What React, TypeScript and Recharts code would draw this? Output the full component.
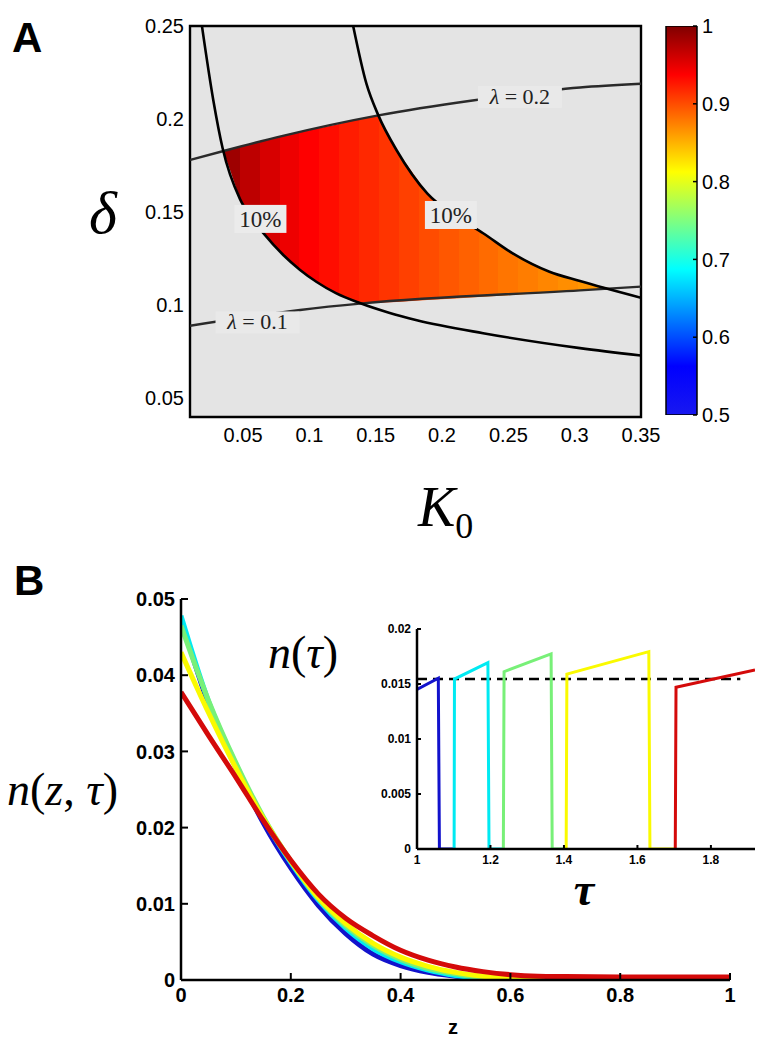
import React from 'react';
import { ComposedChart, Line, Area, Bar, Scatter, XAxis, YAxis, CartesianGrid, ReferenceArea } from 'recharts';

const SANS = '"Liberation Sans", Arial, Helvetica, sans-serif';
const SERIF = '"Liberation Serif", "Times New Roman", Times, serif';

// ---------- panel A: contour map over (K0, delta)
const kTicks = [0.05, 0.1, 0.15, 0.2, 0.25, 0.3, 0.35];
const deltaTicks = [0.05, 0.1, 0.15, 0.2, 0.25];
const colorTicks = [0.5, 0.6, 0.7, 0.8, 0.9, 1];

// left "10%" contour
const lowerTenPct = [
  { k: 0.019, d: 0.25 }, { k: 0.0276, d: 0.21 }, { k: 0.0346, d: 0.1843 }, { k: 0.0477, d: 0.157 },
  { k: 0.0552, d: 0.148 }, { k: 0.065, d: 0.139 }, { k: 0.0803, d: 0.127 }, { k: 0.093, d: 0.119 },
  { k: 0.1055, d: 0.1125 }, { k: 0.12, d: 0.1065 }, { k: 0.138, d: 0.1012 }, { k: 0.16, d: 0.096 },
  { k: 0.181, d: 0.092 }, { k: 0.231, d: 0.085 }, { k: 0.304, d: 0.077 }, { k: 0.35, d: 0.073 },
];
// right "10%" contour
const upperTenPct = [
  { k: 0.133, d: 0.25 }, { k: 0.143, d: 0.219 }, { k: 0.152, d: 0.202 }, { k: 0.166, d: 0.183 },
  { k: 0.189, d: 0.16 }, { k: 0.21, d: 0.148 }, { k: 0.231, d: 0.1387 }, { k: 0.253, d: 0.128 },
  { k: 0.281, d: 0.118 }, { k: 0.304, d: 0.113 }, { k: 0.35, d: 0.104 },
];
const lambda02 = [
  { k: 0.01, d: 0.178 }, { k: 0.036, d: 0.183 }, { k: 0.08, d: 0.191 }, { k: 0.152, d: 0.202 },
  { k: 0.223, d: 0.21 }, { k: 0.304, d: 0.217 }, { k: 0.35, d: 0.219 },
];
const lambda01 = [
  { k: 0.01, d: 0.089 }, { k: 0.093, d: 0.0975 }, { k: 0.14, d: 0.101 }, { k: 0.304, d: 0.108 },
  { k: 0.35, d: 0.11 },
];

// coloured feasible region: lower / upper delta at each K0
const regionK = [0.035, 0.04, 0.0477, 0.0552, 0.065, 0.0803, 0.093, 0.1055, 0.12, 0.139, 0.152, 0.166, 0.189, 0.21, 0.231, 0.253, 0.281, 0.304, 0.327];
const regionLow = [0.183, 0.173, 0.157, 0.148, 0.139, 0.127, 0.119, 0.1125, 0.1065, 0.101, 0.1013, 0.1018, 0.1028, 0.1037, 0.1046, 0.1055, 0.1069, 0.108, 0.109];
const regionHigh = [0.183, 0.184, 0.1851, 0.1865, 0.1883, 0.191, 0.193, 0.195, 0.197, 0.2005, 0.202, 0.183, 0.16, 0.148, 0.1387, 0.128, 0.118, 0.113, 0.109];

// colour value of the vertical bands inside the region
const bandK = [0.04, 0.055, 0.07, 0.085, 0.1, 0.115, 0.13, 0.145, 0.16, 0.175, 0.19, 0.205, 0.22, 0.235, 0.25, 0.265, 0.28, 0.295, 0.31, 0.325];
const bandValue = [0.985, 0.97, 0.957, 0.946, 0.938, 0.931, 0.924, 0.918, 0.912, 0.906, 0.9, 0.895, 0.89, 0.885, 0.88, 0.876, 0.872, 0.868, 0.864, 0.86];

const contourLabels = [
  { k: 0.0631, d: 0.1464, kind: 'pct', text: '10%' },
  { k: 0.2067, d: 0.1485, kind: 'pct', text: '10%' },
  { k: 0.2587, d: 0.2119, kind: 'lambda', text: '0.2' },
  { k: 0.0609, d: 0.0908, kind: 'lambda', text: '0.1' },
];

// colour bar spans the value range 0.5 .. 1
const colorBar = [{ name: 'value', span: [0.5, 1] }];

// ---------- panel B: profiles n(z, tau)
const zTicks = [0, 0.2, 0.4, 0.6, 0.8, 1];
const nTicks = [0, 0.01, 0.02, 0.03, 0.04, 0.05];

const blueN = [
  { z: 0, n: 0.0474 }, { z: 0.05, n: 0.0362 }, { z: 0.1, n: 0.0279 }, { z: 0.15, n: 0.0206 }, { z: 0.2, n: 0.0147 },
  { z: 0.25, n: 0.0098 }, { z: 0.3, n: 0.0061 }, { z: 0.35, n: 0.0034 }, { z: 0.4, n: 0.0019 }, { z: 0.45, n: 0.001 },
  { z: 0.5, n: 0.0005 }, { z: 0.55, n: 0.00015 }, { z: 0.575, n: 0 },
];
const cyanN = [
  { z: 0, n: 0.0478 }, { z: 0.05, n: 0.0366 }, { z: 0.1, n: 0.0283 }, { z: 0.15, n: 0.0212 }, { z: 0.2, n: 0.0154 },
  { z: 0.25, n: 0.0105 }, { z: 0.3, n: 0.0068 }, { z: 0.35, n: 0.0041 }, { z: 0.4, n: 0.0024 }, { z: 0.45, n: 0.0013 },
  { z: 0.5, n: 0.0006 }, { z: 0.55, n: 0.0002 }, { z: 0.6, n: 0 },
];
const greenN = [
  { z: 0, n: 0.0465 }, { z: 0.05, n: 0.0367 }, { z: 0.1, n: 0.0285 }, { z: 0.15, n: 0.0214 }, { z: 0.2, n: 0.0156 },
  { z: 0.25, n: 0.0107 }, { z: 0.3, n: 0.0071 }, { z: 0.35, n: 0.0045 }, { z: 0.4, n: 0.0027 }, { z: 0.45, n: 0.0015 },
  { z: 0.5, n: 0.0008 }, { z: 0.55, n: 0.0003 }, { z: 0.6, n: 0.0001 }, { z: 0.63, n: 0 },
];
const yellowN = [
  { z: 0, n: 0.043 }, { z: 0.05, n: 0.0351 }, { z: 0.1, n: 0.0278 }, { z: 0.15, n: 0.0212 }, { z: 0.2, n: 0.0156 },
  { z: 0.25, n: 0.0108 }, { z: 0.3, n: 0.0074 }, { z: 0.35, n: 0.0048 }, { z: 0.4, n: 0.003 }, { z: 0.45, n: 0.0018 },
  { z: 0.5, n: 0.001 }, { z: 0.55, n: 0.0005 }, { z: 0.6, n: 0.0002 }, { z: 0.66, n: 0 },
];
const redN = [
  { z: 0, n: 0.0378 }, { z: 0.05, n: 0.0321 }, { z: 0.1, n: 0.0266 }, { z: 0.15, n: 0.0209 }, { z: 0.2, n: 0.0157 },
  { z: 0.25, n: 0.0113 }, { z: 0.3, n: 0.0081 }, { z: 0.35, n: 0.0058 }, { z: 0.4, n: 0.0039 }, { z: 0.45, n: 0.0026 },
  { z: 0.5, n: 0.0017 }, { z: 0.55, n: 0.0011 }, { z: 0.6, n: 0.0007 }, { z: 0.65, n: 0.0005 }, { z: 0.7, n: 0.00045 },
  { z: 0.8, n: 0.0004 }, { z: 0.9, n: 0.0004 }, { z: 1, n: 0.0004 },
];

// ---------- inset: n(tau)
const tauTicks = [1, 1.2, 1.4, 1.6, 1.8];
const insetNTicks = [0, 0.005, 0.01, 0.015, 0.02];
const blueTau = [{ t: 1, n: 0.0145 }, { t: 1.058, n: 0.01552 }, { t: 1.061, n: 0 }, { t: 1.104, n: 0 }];
const cyanTau = [{ t: 1.101, n: 0 }, { t: 1.102, n: 0.01545 }, { t: 1.193, n: 0.01694 }, { t: 1.196, n: 0 }, { t: 1.235, n: 0 }];
const greenTau = [{ t: 1.235, n: 0 }, { t: 1.237, n: 0.01612 }, { t: 1.365, n: 0.01773 }, { t: 1.368, n: 0 }, { t: 1.406, n: 0 }];
const yellowTau = [{ t: 1.406, n: 0 }, { t: 1.408, n: 0.0159 }, { t: 1.631, n: 0.01794 }, { t: 1.634, n: 0 }, { t: 1.703, n: 0 }];
const redTau = [{ t: 1.703, n: 0 }, { t: 1.705, n: 0.0147 }, { t: 1.92, n: 0.01627 }];
const thresholdTau = [{ t: 1, n: 0.01545 }, { t: 1.88, n: 0.01545 }];

const COLORS = { blue: '#1212cc', cyan: '#00eaf2', green: '#78f078', yellow: '#fafa00', red: '#d40a0a' };

// matlab jet over the colour-bar range [0.5, 1]
function jet(v: number) {
  const f = (v - 0.5) / 0.5;
  const c = (x: number) => Math.round(255 * Math.max(0, Math.min(1, x)));
  return `rgb(${c(1.5 - Math.abs(4 * f - 3))},${c(1.5 - Math.abs(4 * f - 2))},${c(1.5 - Math.abs(4 * f - 1))})`;
}
const jetStops: [number, string][] = [
  [0, '#1818f0'], [0.125, '#0000ff'], [0.375, '#00ffff'], [0.625, '#ffff00'], [0.875, '#ff0000'], [1, '#800000'],
];

const regionData = regionK.map((k, i) => ({ k, band: [regionLow[i], regionHigh[i]] }));
const kMin = regionK[0];
const kMax = regionK[regionK.length - 1];

const tickA = { fontSize: 20, fill: '#000', fontFamily: SANS };
const tickB = { fontSize: 20, fill: '#000', fontFamily: SANS, fontWeight: 'bold' as const };
const tickInset = { fontSize: 12, fill: '#000', fontFamily: SANS, fontWeight: 'bold' as const };
const axisB = { stroke: '#000', strokeWidth: 2.5 };
const tickLineB = { stroke: '#000', strokeWidth: 2 };

const BoxLabel = (p: any) => {
  const { cx, cy, payload } = p;
  if (cx == null || cy == null) return null;
  if (payload.kind === 'pct') {
    return (
      <g>
        <rect x={cx - 26} y={cy - 14} width={52} height={28} fill="#ebebeb" />
        <text x={cx} y={cy + 8} textAnchor="middle" fontFamily={SERIF} fontSize={23} fill="#222">{payload.text}</text>
      </g>
    );
  }
  return (
    <g>
      <rect x={cx - 42} y={cy - 11} width={84} height={22} fill="#e9e9e9" />
      <text x={cx} y={cy + 7} textAnchor="middle" fontFamily={SERIF} fontSize={22} fill="#222">
        <tspan fontStyle="italic">λ</tspan>
        <tspan>{' = ' + payload.text}</tspan>
      </text>
    </g>
  );
};

export default function App() {
  return (
    <div style={{ position: 'absolute', left: 0, top: 0, width: 762, height: 1050, background: '#fff' }}>
      <svg width={0} height={0} style={{ position: 'absolute' }}>
        <defs>
          <linearGradient id="bandGrad" x1="0" y1="0" x2="1" y2="0">
            {bandK.flatMap((k, i) => {
              const a = Math.max(0, (k - 0.0075 - kMin) / (kMax - kMin));
              const b = Math.min(1, (k + 0.0075 - kMin) / (kMax - kMin));
              const c = jet(bandValue[i]);
              return [<stop key={i + 'a'} offset={a} stopColor={c} />, <stop key={i + 'b'} offset={b} stopColor={c} />];
            })}
          </linearGradient>
          <linearGradient id="jetGrad" x1="0" y1="1" x2="0" y2="0">
            {jetStops.map(([o, c]) => <stop key={o} offset={o} stopColor={c} />)}
          </linearGradient>
        </defs>
      </svg>

      {/* panel A */}
      <div style={{ position: 'absolute', left: 0, top: 0 }}>
        <ComposedChart width={762} height={560} data={regionData} margin={{ top: 26, right: 121, bottom: 103, left: 130 }}>
          <CartesianGrid horizontal={false} vertical={false} fill="#e4e4e4" fillOpacity={1} stroke="none" />
          <XAxis type="number" dataKey="k" domain={[0.01, 0.35]} ticks={kTicks} allowDataOverflow axisLine={false}
            tickLine={false} tickSize={0} tickMargin={11} height={40} tick={tickA} />
          <YAxis type="number" domain={[0.04, 0.25]} ticks={deltaTicks} allowDataOverflow axisLine={false}
            tickLine={false} tickSize={0} tickMargin={6} width={60} tick={tickA} />
          <Area dataKey="band" type="linear" fill="url(#bandGrad)" fillOpacity={1} stroke="none" isAnimationActive={false} />
          <Line data={lambda02} dataKey="d" type="monotone" stroke="#2a2a2a" strokeWidth={2.4} dot={false} isAnimationActive={false} />
          <Line data={lambda01} dataKey="d" type="monotone" stroke="#2a2a2a" strokeWidth={2.4} dot={false} isAnimationActive={false} />
          <Line data={lowerTenPct} dataKey="d" type="monotone" stroke="#000" strokeWidth={2.6} dot={false} isAnimationActive={false} />
          <Line data={upperTenPct} dataKey="d" type="monotone" stroke="#000" strokeWidth={2.6} dot={false} isAnimationActive={false} />
          <ReferenceArea x1={0.01} x2={0.35} y1={0.04} y2={0.25} fill="none" stroke="#000" strokeWidth={2.4} />
          <Scatter data={contourLabels} dataKey="d" shape={BoxLabel} isAnimationActive={false} />
        </ComposedChart>
      </div>

      {/* colour bar */}
      <div style={{ position: 'absolute', left: 620, top: 0 }}>
        <ComposedChart width={142} height={560} data={colorBar} barCategoryGap={0}
          margin={{ top: 26, right: 5, bottom: 145, left: 46 }}>
          <XAxis dataKey="name" type="category" hide />
          <YAxis orientation="right" type="number" domain={[0.5, 1]} ticks={colorTicks} width={60} allowDataOverflow
            axisLine={false} tickLine={{ stroke: '#000', strokeWidth: 1.5 }} tickSize={-4} tickMargin={9} tick={tickA} />
          <Bar dataKey="span" fill="url(#jetGrad)" stroke="#000" strokeWidth={1.5} isAnimationActive={false} />
        </ComposedChart>
      </div>

      {/* panel B */}
      <div style={{ position: 'absolute', left: 0, top: 560 }}>
        <ComposedChart width={762} height={490} margin={{ top: 39, right: 32, bottom: 40, left: 121 }}>
          <XAxis type="number" dataKey="z" domain={[0, 1]} ticks={zTicks} allowDataOverflow height={30}
            axisLine={axisB} tickLine={tickLineB} tickSize={-7} tickMargin={15} tick={tickB} />
          <YAxis type="number" domain={[0, 0.05]} ticks={nTicks} allowDataOverflow width={60}
            axisLine={axisB} tickLine={tickLineB} tickSize={-7} tickMargin={13} tick={tickB} />
          <Line data={blueN} dataKey="n" type="monotone" stroke={COLORS.blue} strokeWidth={5} dot={false} isAnimationActive={false} />
          <Line data={cyanN} dataKey="n" type="monotone" stroke={COLORS.cyan} strokeWidth={5} dot={false} isAnimationActive={false} />
          <Line data={greenN} dataKey="n" type="monotone" stroke={COLORS.green} strokeWidth={5} dot={false} isAnimationActive={false} />
          <Line data={yellowN} dataKey="n" type="monotone" stroke={COLORS.yellow} strokeWidth={5} dot={false} isAnimationActive={false} />
          <Line data={redN} dataKey="n" type="monotone" stroke={COLORS.red} strokeWidth={5} dot={false} isAnimationActive={false} />
        </ComposedChart>
      </div>

      {/* inset */}
      <div style={{ position: 'absolute', left: 340, top: 600 }}>
        <ComposedChart width={422} height={290} margin={{ top: 29, right: 7, bottom: 16, left: 27 }}>
          <XAxis type="number" dataKey="t" domain={[1, 1.92]} ticks={tauTicks} allowDataOverflow height={25}
            axisLine={axisB} tickLine={tickLineB} tickSize={-4} tickMargin={10} tick={tickInset} />
          <YAxis type="number" domain={[0, 0.02]} ticks={insetNTicks} allowDataOverflow width={50}
            axisLine={axisB} tickLine={tickLineB} tickSize={-4} tickMargin={10} tick={tickInset} />
          <Line data={thresholdTau} dataKey="n" type="linear" stroke="#000" strokeWidth={2.5} strokeDasharray="10 6" dot={false} isAnimationActive={false} />
          <Line data={blueTau} dataKey="n" type="linear" stroke={COLORS.blue} strokeWidth={3} dot={false} isAnimationActive={false} />
          <Line data={cyanTau} dataKey="n" type="linear" stroke={COLORS.cyan} strokeWidth={3} dot={false} isAnimationActive={false} />
          <Line data={greenTau} dataKey="n" type="linear" stroke={COLORS.green} strokeWidth={3} dot={false} isAnimationActive={false} />
          <Line data={yellowTau} dataKey="n" type="linear" stroke={COLORS.yellow} strokeWidth={3} dot={false} isAnimationActive={false} />
          <Line data={redTau} dataKey="n" type="linear" stroke={COLORS.red} strokeWidth={3} dot={false} isAnimationActive={false} />
        </ComposedChart>
      </div>

      {/* panel letters and math axis titles */}
      <svg width={762} height={1050} style={{ position: 'absolute', left: 0, top: 0, pointerEvents: 'none' }}>
        <text x={12} y={52} fontFamily={SANS} fontWeight="bold" fontSize={42}>A</text>
        <text x={103} y={233} textAnchor="middle" fontFamily={SERIF} fontStyle="italic" fontSize={60}>δ</text>
        <text x={418} y={526} fontFamily={SERIF} fontSize={56}>
          <tspan fontStyle="italic">K</tspan>
          <tspan fontSize={36} dy={12}>0</tspan>
        </text>
        <text x={14} y={595} fontFamily={SANS} fontWeight="bold" fontSize={42}>B</text>
        <text x={7} y={805} fontFamily={SERIF} fontSize={46}>
          <tspan fontStyle="italic">n</tspan><tspan>(</tspan><tspan fontStyle="italic">z</tspan><tspan>, </tspan>
          <tspan fontStyle="italic">τ</tspan><tspan>)</tspan>
        </text>
        <text x={268} y={668} fontFamily={SERIF} fontSize={46}>
          <tspan fontStyle="italic">n</tspan><tspan>(</tspan><tspan fontStyle="italic">τ</tspan><tspan>)</tspan>
        </text>
        <text x={584} y={905} textAnchor="middle" fontFamily={SERIF} fontStyle="italic" fontWeight="bold" fontSize={46}>τ</text>
        <text x={453} y={1034} textAnchor="middle" fontFamily={SANS} fontWeight="bold" fontSize={20}>z</text>
      </svg>
    </div>
  );
}
